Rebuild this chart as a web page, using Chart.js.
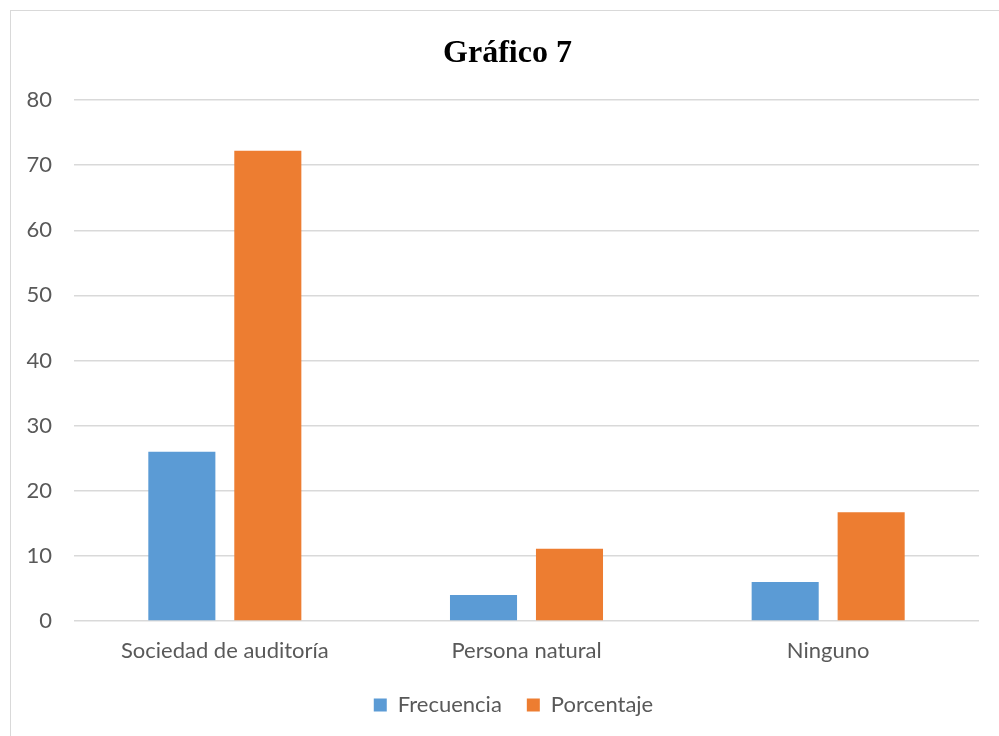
<!DOCTYPE html>
<html>
<head>
<meta charset="utf-8">
<script src="https://cdn.jsdelivr.net/npm/chart.js@4"></script>
<style>
  html, body { margin: 0; padding: 0; background: #fff; overflow: hidden; }
  #frame { position: absolute; left: 10px; top: 10px; width: 1000px; height: 800px; border: 1px solid #d9d9d9; }
  #wrap { position: absolute; left: 0; top: 0; width: 999px; height: 736px; }
</style>
</head>
<body>
<div id="frame"></div>
<div id="wrap"><canvas id="chart" width="999" height="736"></canvas></div>
<script>
const categories = ['Sociedad de auditoría', 'Persona natural', 'Ninguno'];
const frecuencia = [26, 4, 6];
const porcentaje = [72.2, 11.1, 16.7];
const yTicks = [0, 10, 20, 30, 40, 50, 60, 70, 80];

const tickFont = { family: 'Lato, "Open Sans", sans-serif', size: 22 };

// title and legend in the reference sit a little right of the canvas centre
const blockShift = {
    id: 'blockShift',
    afterLayout(chart) {
        chart.titleBlock.left += 26;
        chart.legend.left += 38;
    },
};

new Chart('chart', {
    type: 'bar',
    data: {
        labels: categories,
        datasets: [
            { label: 'Frecuencia', data: frecuencia, backgroundColor: '#5B9BD5' },
            { label: 'Porcentaje', data: porcentaje, backgroundColor: '#ED7D31' },
        ],
    },
    options: {
        responsive: false,
        animation: false,
        datasets: { bar: { categoryPercentage: 0.57, barPercentage: 0.78 } },
        layout: { padding: { left: 10, right: 20, top: 20, bottom: 10 } },
        plugins: {
            title: {
                display: true,
                text: 'Gráfico 7',
                color: '#000',
                font: { family: '"Liberation Serif", "Times New Roman", serif', size: 32, weight: 'bold' },
                padding: { top: 14.8, bottom: 26.8 },
            },
            legend: {
                position: 'bottom',
                labels: {
                    color: '#595959',
                    font: tickFont,
                    boxWidth: 13,
                    boxHeight: 13,
                    padding: 25,
                },
            },
            tooltip: { enabled: false },
        },
        scales: {
            x: {
                afterFit: (scale) => { scale.height = 48; },
                grid: { display: false, drawTicks: false },
                border: { display: false },
                ticks: { color: '#595959', font: tickFont, padding: 17 },
            },
            y: {
                min: 0,
                max: 80,
                afterBuildTicks: (scale) => { scale.ticks = yTicks.map(v => ({ value: v })); },
                afterFit: (scale) => { scale.width = 64; },
                grid: { color: '#D9D9D9', lineWidth: 1.5, drawTicks: false },
                border: { display: false },
                ticks: { color: '#595959', font: tickFont, padding: 22 },
            },
        },
    },
    plugins: [blockShift],
});
</script>
</body>
</html>
